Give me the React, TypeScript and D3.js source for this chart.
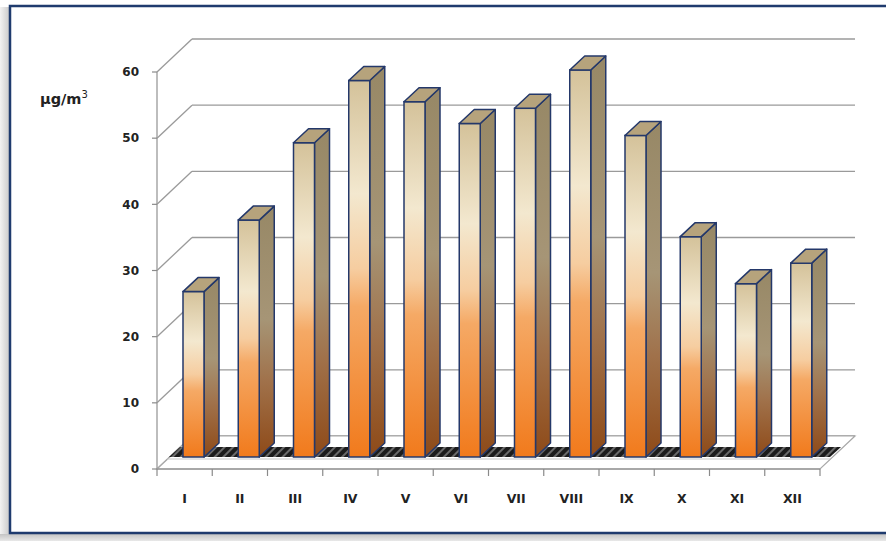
import React from "react";
import * as d3 from "d3";

const categories = ["I", "II", "III", "IV", "V", "VI", "VII", "VIII", "IX", "X", "XI", "XII"];
const values = [25, 35.8, 47.5, 56.9, 53.7, 50.4, 52.7, 58.5, 48.6, 33.3, 26.2, 29.3];
const yTicks = [0, 10, 20, 30, 40, 50, 60];
const unitLabel = "μg/m";
const unitSup = "3";

const W = 886;
const H = 541;
const DX = 35; // depth offset of back wall
const DY = 33;
const BAR_DY = 12;
const BAR_W = 21;
const BAR_DEPTH_X = 15;
const BAR_DEPTH_Y = 14;
const OUTLINE = "#24386a";
const FONT = "'DejaVu Sans', Verdana, sans-serif";

export default function App() {
  const x = d3.scaleBand<string>().domain(categories).range([157, 820]);
  const y = d3.scaleLinear().domain([0, 60]).range([469, 72]);
  const x0 = 157;
  const x1 = 820;
  const y0 = y(0);
  const baseY = y0 - BAR_DY;

  return (
    <svg
      width={W}
      height={H}
      style={{ position: "absolute", left: 0, top: 0, fontFamily: FONT }}
    >
      <defs>
        <linearGradient id="leftShadow" x1="0" x2="1" y1="0" y2="0">
          <stop offset="0" stopColor="#f2f2f2" />
          <stop offset="1" stopColor="#c8c8c8" />
        </linearGradient>
        <linearGradient id="bottomShadow" x1="0" x2="0" y1="0" y2="1">
          <stop offset="0" stopColor="#c4c4c4" />
          <stop offset="1" stopColor="#e8e8e8" />
        </linearGradient>
        <linearGradient id="frontGrad" x1="0" x2="0" y1="0" y2="1">
          <stop offset="0" stopColor="#d4c29a" />
          <stop offset="0.3" stopColor="#f3e8cf" />
          <stop offset="0.5" stopColor="#f6cda0" />
          <stop offset="0.6" stopColor="#f5a965" />
          <stop offset="1" stopColor="#f17a1c" />
        </linearGradient>
        <linearGradient id="sideGrad" x1="0" x2="0" y1="0" y2="1">
          <stop offset="0" stopColor="#978866" />
          <stop offset="0.45" stopColor="#a69576" />
          <stop offset="0.7" stopColor="#a0714a" />
          <stop offset="1" stopColor="#8e4a18" />
        </linearGradient>
        <pattern id="hatch" width="6" height="6" patternUnits="userSpaceOnUse" patternTransform="rotate(45)">
          <rect width="6" height="6" fill="#1c1c1c" />
          <rect width="2" height="6" fill="#6a6a6a" />
        </pattern>
      </defs>

      {/* outer frame with shadow */}
      <rect x={0} y={0} width={W} height={H} fill="#ffffff" />
      <rect x={0} y={7} width={10} height={H - 7} fill="url(#leftShadow)" />
      <rect x={0} y={534} width={W} height={H - 534} fill="url(#bottomShadow)" />
      <rect x={10} y={6} width={W + 10} height={527} fill="#ffffff" stroke="#1f3b6e" strokeWidth={2.5} />

      {/* back wall gridlines */}
      {yTicks.map((t) => (
        <g key={"g" + t}>
          <line x1={x0 + DX} x2={x1 + DX} y1={y(t) - DY} y2={y(t) - DY} stroke="#9a9a9a" strokeWidth={1.3} />
          <line x1={x0} x2={x0 + DX} y1={y(t)} y2={y(t) - DY} stroke="#9a9a9a" strokeWidth={1.3} />
        </g>
      ))}

      {/* floor */}
      <polygon
        points={`${x0},${y0} ${x1},${y0} ${x1 + DX},${y0 - DY} ${x0 + DX},${y0 - DY}`}
        fill="#ffffff"
        stroke="#a8a8a8"
        strokeWidth={1.2}
      />
      <line x1={x0 + 10} x2={x1 + 10} y1={y0 - 10} y2={y0 - 10} stroke="#c8c8c8" strokeWidth={1.2} />
      {/* shadow band */}
      <polygon
        points={`${x0 + 12},${baseY} ${x1 + 10},${baseY} ${x1 + 21},${baseY - 10} ${x0 + 23},${baseY - 10}`}
        fill="url(#hatch)"
      />

      {/* bars */}
      {categories.map((c, i) => {
        const L = (x(c) as number) + 26;
        const top = y(values[i]) - BAR_DY;
        const R = L + BAR_W;
        return (
          <g key={c}>
            <polygon
              points={`${R},${top} ${R + BAR_DEPTH_X},${top - BAR_DEPTH_Y} ${R + BAR_DEPTH_X},${baseY - BAR_DEPTH_Y} ${R},${baseY}`}
              fill="url(#sideGrad)"
              stroke={OUTLINE}
              strokeWidth={1.5}
              strokeLinejoin="round"
            />
            <rect x={L} y={top} width={BAR_W} height={baseY - top} fill="url(#frontGrad)" stroke={OUTLINE} strokeWidth={1.5} />
            <polygon
              points={`${L},${top} ${L + BAR_DEPTH_X},${top - BAR_DEPTH_Y} ${R + BAR_DEPTH_X},${top - BAR_DEPTH_Y} ${R},${top}`}
              fill="#b6a37c"
              stroke={OUTLINE}
              strokeWidth={1.5}
              strokeLinejoin="round"
            />
          </g>
        );
      })}

      {/* front axes */}
      <line x1={x0} x2={x0} y1={y(60)} y2={y0} stroke="#9a9a9a" strokeWidth={1.3} />
      <line x1={x0} x2={x1} y1={y0} y2={y0} stroke="#9a9a9a" strokeWidth={1.3} />
      {yTicks.map((t) => (
        <g key={"t" + t}>
          <line x1={x0 - 5} x2={x0} y1={y(t)} y2={y(t)} stroke="#8a8a8a" strokeWidth={1.2} />
          <text x={x0 - 18} y={y(t)} dy="0.36em" textAnchor="end" fontSize={12} fontWeight="bold" fill="#222">
            {t}
          </text>
        </g>
      ))}
      {categories.concat([""]).map((c, i) => {
        const xt = x0 + i * x.step();
        return <line key={"xt" + i} x1={xt} x2={xt} y1={y0} y2={y0 + 7} stroke="#8a8a8a" strokeWidth={1.2} />;
      })}
      {categories.map((c) => (
        <text
          key={"l" + c}
          x={(x(c) as number) + x.bandwidth() / 2}
          y={498}
          dy="0.36em"
          textAnchor="middle"
          fontSize={12.5}
          fontWeight="bold"
          fill="#222"
        >
          {c}
        </text>
      ))}

      <text x={40} y={104} fontSize={14.5} fontWeight="bold" fill="#222">
        {unitLabel}
        <tspan dy={-6} fontSize={10} fontWeight="normal">
          {unitSup}
        </tspan>
      </text>
    </svg>
  );
}
